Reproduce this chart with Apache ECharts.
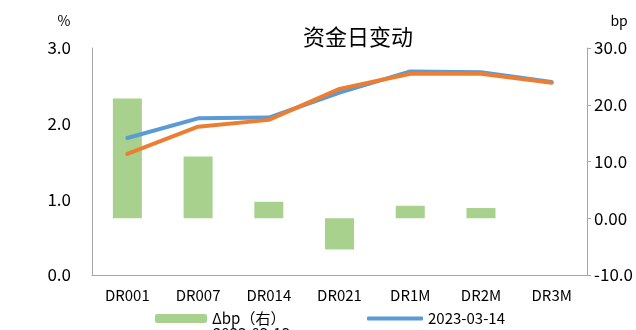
<!DOCTYPE html>
<html>
<head>
<meta charset="utf-8">
<script src="https://cdn.jsdelivr.net/npm/echarts@6/dist/echarts.min.js"></script>
<style>html,body{margin:0;padding:0;background:#fff;}#c{width:636px;height:330px;}</style>
</head>
<body>
<div id="c"></div>
<script>
const categories = ['DR001','DR007','DR014','DR021','DR1M','DR2M','DR3M'];
const deltaBp = [21.1, 10.9, 2.9, -5.5, 2.2, 1.8, 0];
const rate0314 = [1.81, 2.07, 2.08, 2.41, 2.69, 2.68, 2.55];
const rate0313 = [1.60, 1.96, 2.05, 2.46, 2.66, 2.66, 2.54];
const leftTicks = {min: 0, max: 3, interval: 1};
const rightTicks = {min: -10, max: 30, interval: 10};

const FONT = '"Noto Sans CJK SC", "DejaVu Sans", sans-serif';
const chart = echarts.init(document.getElementById('c'));
chart.setOption({
  animation: false,
  title: {
    text: '资金日变动', left: 353, top: 21, textAlign: 'center',
    textStyle: {fontFamily: FONT, fontSize: 22, fontWeight: 'normal', color: '#000'}
  },
  legend: [
    {data: ['Δbp（右）'], left: 150, top: 306, itemWidth: 52, itemHeight: 9, itemGap: 10,
     textStyle: {fontFamily: FONT, fontSize: 15, color: '#000'}},
    {data: ['2023-03-14'], left: 362, top: 306, itemWidth: 56, itemHeight: 4, icon: 'roundRect', itemGap: 10,
     textStyle: {fontFamily: FONT, fontSize: 15, color: '#000'}}
  ],
  graphic: [
    {type: 'text', left: 213, top: 326, silent: true,
     style: {text: '2023-03-13', fontFamily: FONT, fontSize: 15, fill: '#000'}}
  ],
  grid: {left: 92, right: 45, top: 48, bottom: 55, containLabel: false},
  xAxis: {
    type: 'category', data: categories, boundaryGap: true,
    axisLine: {onZero: false, lineStyle: {color: '#a6a6a6', width: 1}},
    axisTick: {show: false},
    axisLabel: {fontFamily: FONT, fontSize: 15, color: '#000', margin: 13}
  },
  yAxis: [
    {
      type: 'value', min: leftTicks.min, max: leftTicks.max, interval: leftTicks.interval,
      name: '%', nameLocation: 'end', nameGap: 20,
      nameTextStyle: {fontFamily: FONT, fontSize: 14, color: '#000', padding: [0, 56, 0, 0]},
      axisLine: {show: true, lineStyle: {color: '#a6a6a6'}},
      axisTick: {show: false},
      splitLine: {show: false},
      axisLabel: {fontFamily: FONT, fontSize: 17, color: '#000', margin: 21,
                  formatter: v => v.toFixed(1)}
    },
    {
      type: 'value', min: rightTicks.min, max: rightTicks.max, interval: rightTicks.interval,
      name: 'bp', nameLocation: 'end', nameGap: 20,
      nameTextStyle: {fontFamily: FONT, fontSize: 14, color: '#000', padding: [0, 0, 0, 64]},
      axisLine: {show: true, lineStyle: {color: '#a6a6a6'}},
      axisTick: {show: true, length: 4, lineStyle: {color: '#a6a6a6'}},
      splitLine: {show: false},
      axisLabel: {fontFamily: FONT, fontSize: 17, color: '#000', margin: 7,
                  formatter: v => v === 0 ? '0.00' : v.toFixed(1)}
    }
  ],
  series: [
    {name: 'Δbp（右）', type: 'bar', yAxisIndex: 1, data: deltaBp, barWidth: 29,
     itemStyle: {color: '#a9d18e'}, z: 1},
    {name: '2023-03-14', type: 'line', yAxisIndex: 0, data: rate0314, symbol: 'none',
     lineStyle: {color: '#5b9bd5', width: 4, cap: 'round', join: 'round'}, itemStyle: {color: '#5b9bd5'}, z: 2},
    {name: '2023-03-13', type: 'line', yAxisIndex: 0, data: rate0313, symbol: 'none',
     lineStyle: {color: '#ed7d31', width: 4, cap: 'round', join: 'round'}, itemStyle: {color: '#ed7d31'}, z: 3}
  ]
});
</script>
</body>
</html>
